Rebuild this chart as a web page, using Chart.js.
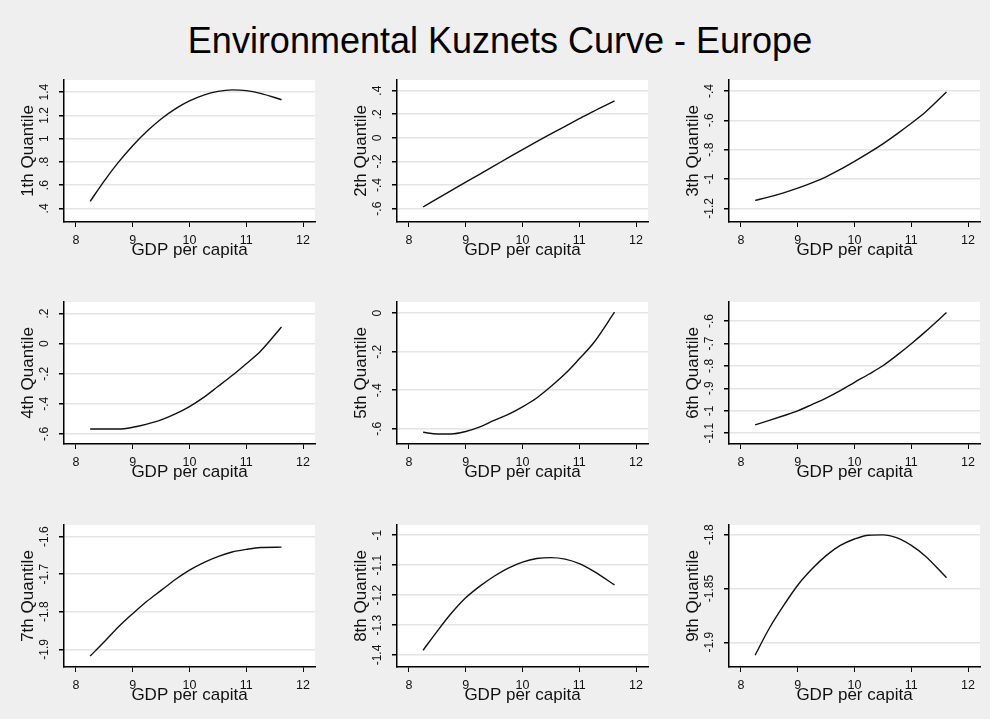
<!DOCTYPE html>
<html>
<head>
<meta charset="utf-8">
<script src="https://cdn.jsdelivr.net/npm/chart.js@4"></script>
<style>
  html, body { margin: 0; padding: 0; }
  body { width: 990px; height: 719px; background: #efefef; position: relative; overflow: hidden;
         font-family: "Liberation Sans", Arial, sans-serif; }
  #titulo { position: absolute; left: 0; top: 20px; width: 1000px; text-align: center;
            font-size: 36px; line-height: 41px; color: #000; }
  .panel { position: absolute; width: 330px; height: 219px; }
</style>
</head>
<body>
<div id="titulo">Environmental Kuznets Curve - Europe</div>

<script>
// --- datos ---
const gdp = [8.25, 8.5, 8.75, 9, 9.25, 9.5, 9.75, 10, 10.25, 10.5, 10.75, 11, 11.25, 11.62];

const q1 = [0.46, 0.637, 0.798, 0.94, 1.064, 1.17, 1.257, 1.325, 1.375, 1.407, 1.42, 1.414, 1.39, 1.335];
const q2 = [-0.586, -0.515, -0.445, -0.376, -0.307, -0.238, -0.168, -0.10, -0.033, 0.033, 0.098, 0.162, 0.225, 0.313];
const q3 = [-1.146, -1.122, -1.094, -1.062, -1.026, -0.985, -0.935, -0.880, -0.822, -0.760, -0.692, -0.620, -0.543, -0.407];
const q4 = [-0.567, -0.567, -0.567, -0.556, -0.535, -0.507, -0.467, -0.418, -0.357, -0.285, -0.212, -0.133, -0.05, 0.111];
const q5 = [-0.618, -0.627, -0.627, -0.614, -0.59, -0.556, -0.525, -0.486, -0.44, -0.381, -0.315, -0.237, -0.155, 0.005];
const q6 = [-1.063, -1.043, -1.022, -1.0, -0.972, -0.943, -0.91, -0.873, -0.837, -0.799, -0.752, -0.701, -0.647, -0.562];
const q7 = [-1.918, -1.88, -1.84, -1.805, -1.772, -1.743, -1.714, -1.689, -1.669, -1.653, -1.641, -1.634, -1.629, -1.628];
const q8 = [-1.384, -1.32, -1.26, -1.209, -1.17, -1.137, -1.11, -1.09, -1.078, -1.075, -1.08, -1.095, -1.12, -1.166];
const q9 = [-1.912, -1.887, -1.866, -1.847, -1.832, -1.8195, -1.81, -1.804, -1.8005, -1.8002, -1.803, -1.81, -1.82, -1.84];

const yTitles = ['1th Quantile', '2th Quantile', '3th Quantile',
                 '4th Quantile', '5th Quantile', '6th Quantile',
                 '7th Quantile', '8th Quantile', '9th Quantile'];

const yTicks = [
  [0.4, 0.6, 0.8, 1, 1.2, 1.4],
  [-0.6, -0.4, -0.2, 0, 0.2, 0.4],
  [-1.2, -1, -0.8, -0.6, -0.4],
  [-0.6, -0.4, -0.2, 0, 0.2],
  [-0.6, -0.4, -0.2, 0],
  [-1.1, -1, -0.9, -0.8, -0.7, -0.6],
  [-1.9, -1.8, -1.7, -1.6],
  [-1.4, -1.3, -1.2, -1.1, -1],
  [-1.9, -1.85, -1.8]
];
const yMin = [0.283, -0.713, -1.293, -0.667, -0.679, -1.148, -1.947, -1.44, -1.923];
const yMax = [1.505, 0.49, -0.325, 0.277, 0.058, -0.515, -1.569, -0.966, -1.791];

const xTicks = [8, 9, 10, 11, 12];
const xMin = 7.79, xMax = 12.21;
const xTitle = 'GDP per capita';

const series = [q1, q2, q3, q4, q5, q6, q7, q8, q9];

// posiciones de los paneles (esquina del canvas)
const colLeft = [0, 333, 665];
const rowTop = [60, 282, 505];

const FONT = '"Liberation Sans", Arial, sans-serif';

// formato tipo Stata: .4, -.2, 1.2
function stataFmt(v) {
  let s = String(parseFloat(v.toFixed(3)));
  return s.replace(/^(-?)0\./, '$1.');
}

// fondo blanco del area del grafico + etiquetas del eje Y giradas
const stataPlugin = {
  id: 'stataPlugin',
  beforeDraw(chart) {
    const a = chart.chartArea, ctx = chart.ctx;
    ctx.save();
    ctx.fillStyle = '#ffffff';
    ctx.fillRect(a.left, a.top, a.right - a.left, a.bottom - a.top);
    ctx.restore();
  },
  afterDraw(chart) {
    const y = chart.scales.y, ctx = chart.ctx;
    ctx.save();
    ctx.font = '12px ' + FONT;
    ctx.fillStyle = '#111';
    ctx.textAlign = 'center';
    ctx.textBaseline = 'middle';
    y.ticks.forEach(t => {
      const py = y.getPixelForValue(t.value);
      ctx.save();
      ctx.translate(chart.chartArea.left - 19, py);
      ctx.rotate(-Math.PI / 2);
      ctx.fillText(stataFmt(t.value), 0, 0);
      ctx.restore();
    });
    ctx.restore();
  }
};

series.forEach(function(vals, i) {
  const cv = document.createElement('canvas');
  cv.className = 'panel';
  cv.width = 330; cv.height = 219;
  cv.style.left = colLeft[i % 3] + 'px';
  cv.style.top = rowTop[Math.floor(i / 3)] + 'px';
  document.body.appendChild(cv);

  const puntos = gdp.map((g, k) => ({x: g, y: vals[k]}));

  new Chart(cv.getContext('2d'), {
    type: 'line',
    data: {
      datasets: [{
        data: puntos,
        borderColor: '#111',
        borderWidth: 1.4,
        pointRadius: 0,
        cubicInterpolationMode: 'monotone',
        fill: false
      }]
    },
    options: {
      responsive: false,
      animation: false,
      layout: { padding: { left: 0, top: 20, right: 15, bottom: 0 } },
      plugins: { legend: { display: false }, tooltip: { enabled: false } },
      scales: {
        x: {
          type: 'linear',
          min: xMin, max: xMax,
          afterBuildTicks: s => { s.ticks = xTicks.map(v => ({value: v})); },
          afterFit: s => { s.height = 57; },
          grid: { drawOnChartArea: false, tickColor: '#000', tickLength: 5 },
          border: { color: '#000', width: 1.5 },
          ticks: { autoSkip: false, maxRotation: 0, padding: 6, color: '#111',
                   font: { family: FONT, size: 12.5 } },
          title: { display: true, text: xTitle, color: '#111',
                   font: { family: FONT, size: 17 }, padding: { top: 0, bottom: 18 } }
        },
        y: {
          type: 'linear',
          min: yMin[i], max: yMax[i],
          afterBuildTicks: s => { s.ticks = yTicks[i].map(v => ({value: v})); },
          afterFit: s => { s.width = 64; },
          grid: { color: '#e4e4e4', lineWidth: 1.5, tickColor: '#000', tickLength: 5 },
          border: { color: '#000', width: 1.5 },
          ticks: { display: false },
          title: { display: true, text: yTitles[i], color: '#111',
                   font: { family: FONT, size: 17 }, padding: { top: 18, bottom: 0 } }
        }
      }
    },
    plugins: [stataPlugin]
  });
});
</script>
</body>
</html>
